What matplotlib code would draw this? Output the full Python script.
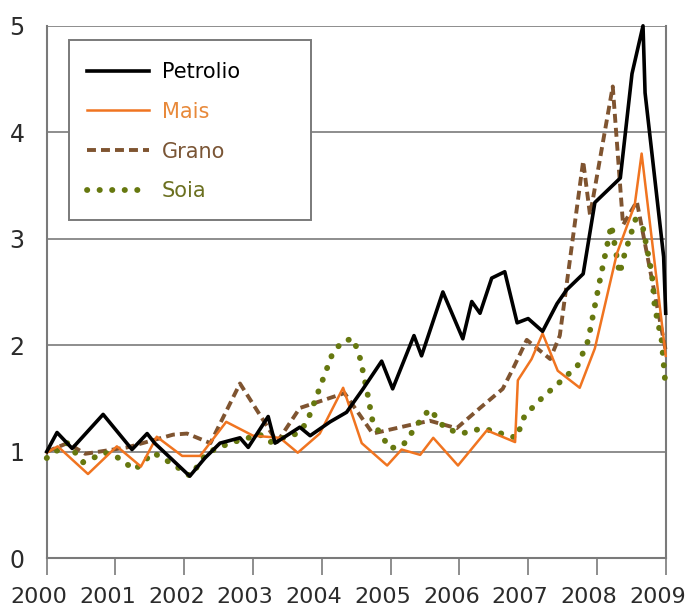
import numpy as np
import matplotlib
matplotlib.use('Agg')
from matplotlib import pyplot as plt
from matplotlib.patches import Rectangle
from matplotlib.transforms import ScaledTranslation

# dati (indice, 2000 = 1)
years_petrolio = [2000.00, 2000.15, 2000.37, 2000.82, 2001.24, 2001.46, 2001.57, 2002.08, 2002.30,
                  2002.52, 2002.81, 2002.93, 2003.22, 2003.32, 2003.68, 2003.83, 2004.12, 2004.36,
                  2004.60, 2004.87, 2005.03, 2005.34, 2005.45, 2005.76, 2006.05, 2006.18, 2006.30,
                  2006.47, 2006.66, 2006.84, 2007.00, 2007.21, 2007.42, 2007.56, 2007.80, 2007.97,
                  2008.34, 2008.51, 2008.67, 2008.70, 2008.97, 2009.00]
petrolio = [1.00, 1.18, 1.03, 1.35, 1.02, 1.17, 1.08, 0.77, 0.94,
            1.08, 1.13, 1.04, 1.33, 1.08, 1.23, 1.15, 1.28, 1.37,
            1.59, 1.85, 1.59, 2.09, 1.90, 2.50, 2.06, 2.41, 2.30,
            2.63, 2.69, 2.21, 2.25, 2.13, 2.39, 2.52, 2.67, 3.34,
            3.57, 4.55, 5.00, 4.37, 2.83, 2.30]

years_mais = [2000.00, 2000.16, 2000.60, 2001.02, 2001.37, 2001.60, 2001.97, 2002.23, 2002.61,
              2003.00, 2003.39, 2003.65, 2003.97, 2004.31, 2004.58, 2004.95, 2005.16, 2005.43,
              2005.62, 2005.98, 2006.40, 2006.81, 2006.85, 2007.05, 2007.21, 2007.43, 2007.75,
              2007.97, 2008.29, 2008.55, 2008.65, 2009.00]
mais = [0.99, 1.05, 0.79, 1.05, 0.86, 1.14, 0.96, 0.96, 1.28,
        1.15, 1.13, 0.99, 1.17, 1.60, 1.08, 0.87, 1.02, 0.97,
        1.13, 0.87, 1.20, 1.09, 1.67, 1.87, 2.11, 1.76, 1.60,
        1.97, 2.86, 3.32, 3.80, 1.90]

years_grano = [2000.00, 2000.30, 2000.56, 2001.17, 2001.84, 2002.04, 2002.38, 2002.81, 2003.35,
               2003.68, 2004.33, 2004.74, 2005.28, 2005.57, 2005.96, 2006.30, 2006.63, 2006.78,
               2006.98, 2007.32, 2007.46, 2007.80, 2007.90, 2008.23, 2008.38, 2008.58, 2009.00]
grano = [1.00, 1.08, 0.98, 1.04, 1.16, 1.17, 1.08, 1.64, 1.09,
         1.41, 1.55, 1.17, 1.25, 1.29, 1.22, 1.41, 1.59, 1.78,
         2.05, 1.87, 2.09, 3.73, 3.22, 4.43, 3.13, 3.35, 1.95]

years_soia = [2000.00, 2000.30, 2000.53, 2000.85, 2001.02, 2001.28, 2001.55, 2001.84, 2002.09,
              2002.33, 2002.66, 2003.10, 2003.25, 2003.64, 2003.78, 2003.97, 2004.16, 2004.31,
              2004.46, 2004.56, 2004.66, 2004.74, 2004.99, 2005.18, 2005.45, 2005.57, 2005.79,
              2006.03, 2006.34, 2006.83, 2006.95, 2007.21, 2007.49, 2007.72, 2007.87, 2008.04,
              2008.21, 2008.33, 2008.40, 2008.56, 2008.67, 2008.80, 2008.84, 2008.94, 2009.00]
soia = [0.94, 1.08, 0.90, 0.99, 0.95, 0.83, 0.99, 0.88, 0.77,
        0.99, 1.08, 1.16, 1.09, 1.17, 1.27, 1.60, 1.93, 2.04,
        2.06, 1.87, 1.56, 1.28, 1.03, 1.06, 1.31, 1.40, 1.22,
        1.17, 1.22, 1.13, 1.34, 1.51, 1.67, 1.81, 2.04, 2.60,
        3.13, 2.67, 2.85, 3.18, 3.10, 2.67, 2.36, 2.05, 1.60]

x_ticks = list(range(2000, 2010))
y_ticks = [0, 1, 2, 3, 4, 5]

grigio = '#7a7a7a'
testo = '#2b2b2b'

fig = plt.figure(figsize=(6.87, 6.14), dpi=100)
ax = fig.add_axes([0.068, 0.091, 0.901, 0.867])

for y in y_ticks[1:]:
    ax.axhline(y, color=grigio, lw=1.2, zorder=1)

ax.plot(years_grano, grano, color='#7f5430', lw=2.8, linestyle=(0, (2.3, 1.3)),
        label='Grano', zorder=3, clip_on=False)
ax.plot(years_soia, soia, color='#66780f', lw=4.2, linestyle=(0, (0.05, 2.1)),
        dash_capstyle='round', label='Soia', zorder=3, clip_on=False)
ax.plot(years_mais, mais, color='#f07420', lw=1.8, label='Mais', zorder=4, clip_on=False)
ax.plot(years_petrolio, petrolio, color='black', lw=2.6, label='Petrolio', zorder=5, clip_on=False)

ax.set_xlim(2000, 2009)
ax.set_ylim(0, 5)
ax.set_xticks(x_ticks)
ax.set_yticks(y_ticks)
ax.tick_params(axis='x', direction='out', length=12, width=1.2, color=grigio,
               labelsize=16, labelcolor=testo, pad=9)
ax.tick_params(axis='y', length=0, labelsize=17, labelcolor=testo, pad=16)

# etichette degli anni un po' spostate a sinistra come nell'originale
sposta = ScaledTranslation(-8 / 100, 0, fig.dpi_scale_trans)
for lab in ax.get_xticklabels():
    lab.set_transform(lab.get_transform() + sposta)

for s in ['left', 'bottom', 'right']:
    ax.spines[s].set_color(grigio)
    ax.spines[s].set_linewidth(1.5)
ax.spines['top'].set_visible(False)

# legenda con cornice disegnata a mano
ax.add_patch(Rectangle((0.036, 0.635), 0.391, 0.339, transform=ax.transAxes,
                       facecolor='white', edgecolor=grigio, lw=1.4, zorder=6))
handles, labels = ax.get_legend_handles_labels()
order = [3, 2, 0, 1]
leg = ax.legend([handles[i] for i in order], [labels[i] for i in order],
                loc='upper left', bbox_to_anchor=(0.065, 0.932), frameon=False,
                fontsize=15, handlelength=3.0, handletextpad=0.6, labelspacing=0.95,
                borderaxespad=0, borderpad=0)
leg.set_zorder(7)
colori_testo = ['black', '#e8893a', '#7a5535', '#6b7020']
for t, c in zip(leg.get_texts(), colori_testo):
    t.set_color(c)

plt.savefig('out.png', dpi=100)
